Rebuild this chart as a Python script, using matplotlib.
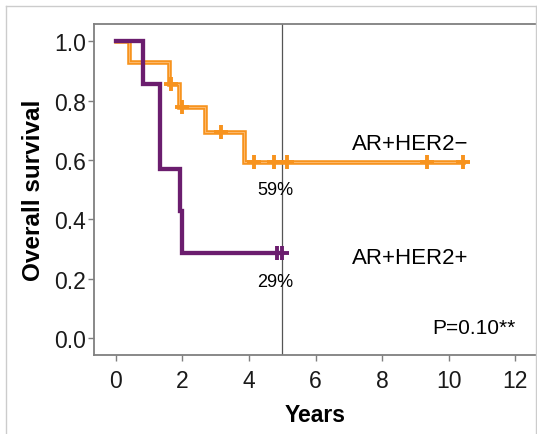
import matplotlib
matplotlib.use("Agg")
import matplotlib.pyplot as plt
from matplotlib.lines import Line2D
from matplotlib import font_manager

plt.rcParams['font.family'] = ['Liberation Sans', 'DejaVu Sans']

# AR+HER2- (orange)
neg_times = [0, 0.4, 1.6, 1.9, 2.68, 3.85, 10.43]
neg_surv = [1.0, 0.929, 0.857, 0.779, 0.693, 0.594, 0.594]
neg_cens_t = [1.65, 1.98, 3.16, 4.16, 4.75, 5.15, 9.34, 10.43]
neg_cens_s = [0.857, 0.779, 0.693, 0.594, 0.594, 0.594, 0.594, 0.594]

# AR+HER2+ (purple)
pos_times = [0, 0.82, 1.32, 1.94, 2.0, 5.0]
pos_surv = [1.0, 0.857, 0.571, 0.429, 0.286, 0.286]
pos_cens_t = [4.85, 5.0]
pos_cens_s = [0.286, 0.286]

xticks = [0, 2, 4, 6, 8, 10, 12]
yticks = [0.0, 0.2, 0.4, 0.6, 0.8, 1.0]

orange = '#F7931E'
orange_light = '#FDC07A'
purple = '#6B1D6E'
spine_c = '#7F7F7F'

names = {f.name for f in font_manager.fontManager.ttflist}
if 'Liberation Sans Narrow' in names:
    pct_family, pct_size = 'Liberation Sans Narrow', 15
else:
    pct_family, pct_size = 'Liberation Sans', 13

fig = plt.figure(figsize=(5.37, 4.35), dpi=100)
ax = fig.add_axes([94/537, 1-355.7/435, 1-94/537, (355.7-25.3)/435])

ax.axvline(5, color='#555555', lw=0.9, zorder=1)

ax.step(neg_times, neg_surv, where='post', color=orange, lw=3.3, zorder=2,
        solid_joinstyle='miter')
ax.step(neg_times, neg_surv, where='post', color=orange_light, lw=0.6, zorder=2.1)
ax.plot(neg_cens_t, neg_cens_s, ls='none', marker='+', ms=10, mew=2.8,
        color=orange, zorder=2.2)

ax.step(pos_times, pos_surv, where='post', color=purple, lw=3.1, zorder=3,
        solid_joinstyle='miter')
ax.plot(pos_cens_t, pos_cens_s, ls='none', marker='+', ms=10, mew=2.8,
        color=purple, zorder=3.2)

ax.set_xlim(-0.66, 12.66)
ax.set_ylim(-0.056, 1.057)
ax.set_xticks(xticks)
ax.set_xticklabels([str(t) for t in xticks])
ax.set_yticks(yticks)
ax.set_yticklabels([f'{t:.1f}' for t in yticks])

for s in ['left', 'bottom', 'top', 'right']:
    ax.spines[s].set_color(spine_c)
    ax.spines[s].set_linewidth(1.3)
ax.tick_params(axis='both', direction='out', length=4, width=1, color=spine_c,
               labelsize=16.5, labelcolor='#1a1a1a')
ax.tick_params(axis='x', pad=6)
ax.tick_params(axis='y', pad=2)

ax.set_xlabel('Years', fontsize=16.5, fontweight='bold', labelpad=8)
ax.set_ylabel('Overall survival', fontsize=17.5, fontweight='bold', labelpad=6)

ax.text(10.6, 0.654, 'AR+HER2\u2212', fontsize=16, ha='right', va='center')
ax.text(10.6, 0.273, 'AR+HER2+', fontsize=16, ha='right', va='center')
ax.text(4.78, 0.502, '59%', fontsize=pct_size, ha='center', va='center',
        family=[pct_family, 'DejaVu Sans'])
ax.text(4.78, 0.189, '29%', fontsize=pct_size, ha='center', va='center',
        family=[pct_family, 'DejaVu Sans'])
ax.text(12.0, 0.037, 'P=0.10**', fontsize=15, ha='right', va='center')

# light grey frame around figure
bc = '#CCCCCC'
fig.add_artist(Line2D([6/537, 6/537], [0, 1-7/435], transform=fig.transFigure, color=bc, lw=1))
fig.add_artist(Line2D([6/537, 536/537], [1-7/435, 1-7/435], transform=fig.transFigure, color=bc, lw=1))
fig.add_artist(Line2D([536/537, 536/537], [0, 1-7/435], transform=fig.transFigure, color=bc, lw=1))

fig.savefig('out.png', dpi=100)
